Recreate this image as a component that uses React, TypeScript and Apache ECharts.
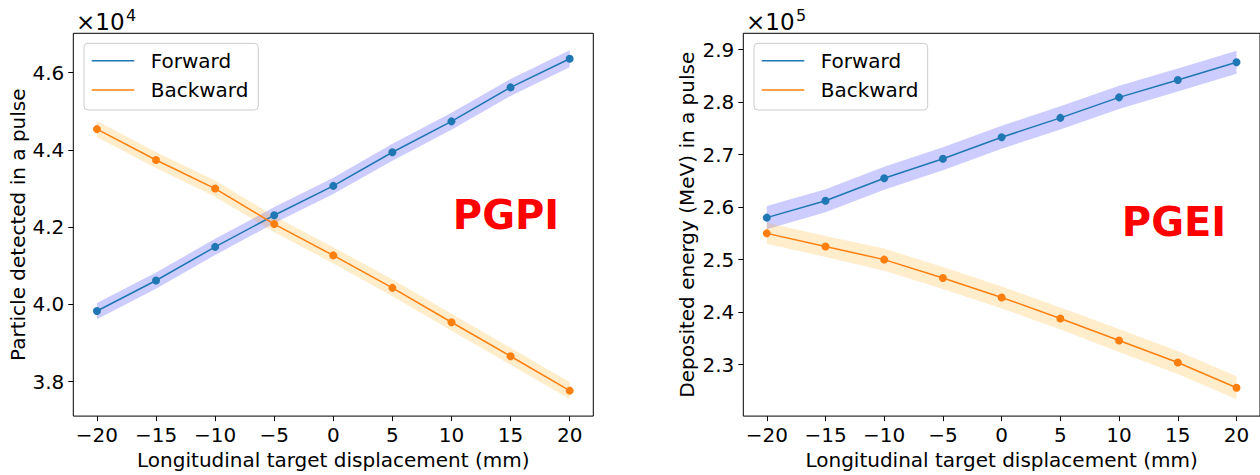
import React, { useEffect, useRef } from "react";
import * as echarts from "echarts";

// Longitudinal target displacement (mm)
const displacement = [-20, -15, -10, -5, 0, 5, 10, 15, 20];
const xTicks = [-20, -15, -10, -5, 0, 5, 10, 15, 20];

// PGPI: particles detected in a pulse (x 1e4)
const forwardPI = [3.983, 4.062, 4.149, 4.231, 4.307, 4.394, 4.474, 4.562, 4.636];
const backwardPI = [4.454, 4.374, 4.3, 4.208, 4.127, 4.043, 3.954, 3.866, 3.777];
const forwardPIErr = [0.021, 0.021, 0.021, 0.021, 0.021, 0.022, 0.022, 0.022, 0.022];
const backwardPIErr = [0.021, 0.021, 0.021, 0.021, 0.021, 0.022, 0.022, 0.022, 0.022];
const yTicksPI = [3.8, 4.0, 4.2, 4.4, 4.6];

// PGEI: deposited energy (MeV) in a pulse (x 1e5)
const forwardEI = [2.58, 2.612, 2.655, 2.692, 2.733, 2.77, 2.809, 2.842, 2.876];
const backwardEI = [2.55, 2.525, 2.5, 2.465, 2.428, 2.388, 2.346, 2.304, 2.256];
const forwardEIErr = [0.022, 0.022, 0.022, 0.022, 0.022, 0.022, 0.022, 0.022, 0.022];
const backwardEIErr = [0.02, 0.02, 0.021, 0.021, 0.021, 0.021, 0.022, 0.022, 0.022];
const yTicksEI = [2.3, 2.4, 2.5, 2.6, 2.7, 2.8, 2.9];

const FONT = "DejaVu Sans";
const BLUE = "#1f77b4";
const ORANGE = "#ff7f0e";

function band(name: string, xi: number, vals: number[], errs: number[], fill: string) {
  return {
    name,
    type: "custom",
    xAxisIndex: xi,
    yAxisIndex: xi,
    silent: true,
    z: 1,
    data: displacement.map((x, i) => [x, vals[i] - errs[i], vals[i] + errs[i]]),
    renderItem: (params: any, api: any) => {
      if (params.dataIndex !== 0) return { type: "group", children: [] };
      const pts: number[][] = [];
      for (let i = 0; i < displacement.length; i++) pts.push(api.coord([displacement[i], vals[i] - errs[i]]));
      for (let i = displacement.length - 1; i >= 0; i--) pts.push(api.coord([displacement[i], vals[i] + errs[i]]));
      return { type: "polygon", shape: { points: pts }, style: { fill } };
    },
  };
}

function line(name: string, xi: number, vals: number[], color: string) {
  return {
    name,
    type: "line",
    xAxisIndex: xi,
    yAxisIndex: xi,
    z: 3,
    data: displacement.map((x, i) => [x, vals[i]]),
    symbol: "circle",
    symbolSize: 8,
    showSymbol: true,
    lineStyle: { color, width: 1.5 },
    itemStyle: { color },
  };
}

function xAxis(gi: number) {
  return {
    type: "value",
    gridIndex: gi,
    min: -22,
    max: 22,
    axisLine: { show: false, onZero: false },
    axisTick: { show: true, inside: false, length: 5, customValues: xTicks, lineStyle: { color: "#000", width: 1 } },
    axisLabel: {
      customValues: xTicks,
      fontSize: 20,
      fontFamily: FONT,
      color: "#000",
      margin: 9,
      formatter: (v: number) => (v < 0 ? "\u2212" + Math.abs(v) : String(v)),
    },
    splitLine: { show: false },
    name: "Longitudinal target displacement (mm)",
    nameLocation: "middle",
    nameGap: 32,
    nameTextStyle: { fontSize: 20, fontFamily: FONT, color: "#000" },
  };
}

function yAxis(gi: number, min: number, max: number, ticks: number[], name: string, nameGap: number) {
  return {
    type: "value",
    gridIndex: gi,
    min,
    max,
    axisLine: { show: false, onZero: false },
    axisTick: { show: true, inside: false, length: 5, customValues: ticks, lineStyle: { color: "#000", width: 1 } },
    axisLabel: {
      customValues: ticks,
      fontSize: 20,
      fontFamily: FONT,
      color: "#000",
      margin: 9,
      formatter: (v: number) => v.toFixed(1),
    },
    splitLine: { show: false },
    name,
    nameLocation: "middle",
    nameGap,
    nameTextStyle: { fontSize: 20, fontFamily: FONT, color: "#000" },
  };
}

function legend(x: number, w: number) {
  return [
    {
      type: "rect",
      shape: { x, y: 43.3, width: w, height: 66.7, r: 4 },
      style: { fill: "rgba(255,255,255,0.8)", stroke: "#cccccc", lineWidth: 1 },
      z: 10,
    },
    {
      type: "line",
      shape: { x1: x + 7.7, y1: 60.7, x2: x + 50.3, y2: 60.7 },
      style: { stroke: BLUE, lineWidth: 1.5 },
      z: 11,
    },
    {
      type: "line",
      shape: { x1: x + 7.7, y1: 90, x2: x + 50.3, y2: 90 },
      style: { stroke: ORANGE, lineWidth: 1.5 },
      z: 11,
    },
    {
      type: "text",
      x: x + 66.7,
      y: 60.7,
      style: { text: "Forward", font: `20px '${FONT}'`, fill: "#000", verticalAlign: "middle", align: "left" },
      z: 11,
    },
    {
      type: "text",
      x: x + 66.7,
      y: 90,
      style: { text: "Backward", font: `20px '${FONT}'`, fill: "#000", verticalAlign: "middle", align: "left" },
      z: 11,
    },
  ];
}

function multiplier(x: number, exp: string) {
  return [
    {
      type: "text",
      x,
      y: 21.5,
      style: { text: "\u00d710", font: `23px '${FONT}'`, fill: "#000", verticalAlign: "middle", align: "left" },
    },
    {
      type: "text",
      x: x + 50,
      y: 15,
      style: { text: exp, font: `16px '${FONT}'`, fill: "#000", verticalAlign: "middle", align: "left" },
    },
  ];
}

export default function App() {
  const ref = useRef<HTMLDivElement>(null);
  useEffect(() => {
    if (!ref.current) return;
    const chart = echarts.init(ref.current, undefined, { renderer: "svg" });
    chart.setOption({
      animation: false,
      backgroundColor: "#fff",
      grid: [
        { left: 73.3, top: 33.3, width: 520, height: 388.4, show: true, borderColor: "#000", borderWidth: 1, backgroundColor: "transparent" },
        { left: 743.3, top: 33.3, width: 519.5, height: 388.4, show: true, borderColor: "#000", borderWidth: 1, backgroundColor: "transparent" },
      ],
      xAxis: [xAxis(0), xAxis(1)],
      yAxis: [
        yAxis(0, 3.711, 4.702, yTicksPI, "Particle detected in a pulse", 45),
        yAxis(1, 2.202, 2.931, yTicksEI, "Deposited energy (MeV) in a pulse", 46),
      ],
      series: [
        band("Forward band", 0, forwardPI, forwardPIErr, "rgba(0,0,255,0.2)"),
        band("Backward band", 0, backwardPI, backwardPIErr, "rgba(255,165,0,0.2)"),
        line("Forward", 0, forwardPI, BLUE),
        line("Backward", 0, backwardPI, ORANGE),
        band("Forward band", 1, forwardEI, forwardEIErr, "rgba(0,0,255,0.2)"),
        band("Backward band", 1, backwardEI, backwardEIErr, "rgba(255,165,0,0.2)"),
        line("Forward", 1, forwardEI, BLUE),
        line("Backward", 1, backwardEI, ORANGE),
      ],
      graphic: [
        ...multiplier(76, "4"),
        ...multiplier(746, "5"),
        ...legend(84, 174.3),
        ...legend(754, 173.7),
        {
          type: "text",
          x: 506,
          y: 215,
          style: { text: "PGPI", font: `bold 40px '${FONT}'`, fill: "#ff0000", verticalAlign: "middle", align: "center" },
        },
        {
          type: "text",
          x: 1174,
          y: 222,
          style: { text: "PGEI", font: `bold 40px '${FONT}'`, fill: "#ff0000", verticalAlign: "middle", align: "center" },
        },
      ],
    });
    return () => chart.dispose();
  }, []);
  return <div ref={ref} style={{ position: "absolute", left: 0, top: 0, width: 1260, height: 475 }} />;
}
